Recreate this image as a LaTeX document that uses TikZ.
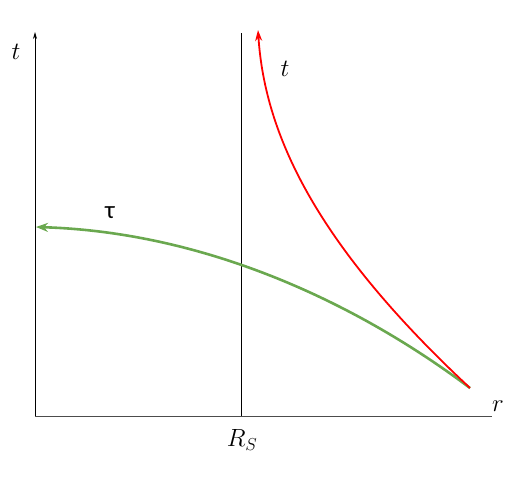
\documentclass[tikz,border=0pt]{standalone}
\usepackage{fontspec}
\newfontfamily\griega{Carlito}
\usetikzlibrary{arrows.meta}

\definecolor{verde}{RGB}{106,168,79}
\tikzset{
  eje/.style={line width=0.7pt},
  etiqueta/.style={font=\fontsize{27}{30}\selectfont, inner sep=0pt},
  curvaroja/.style={red, line width=1.8pt, -{Stealth[length=11pt,width=7pt]}},
  curvaverde/.style={verde, line width=2.6pt, -{Stealth[length=12pt,width=9pt]}}
}

\begin{document}
\begin{tikzpicture}[x=1pt,y=-1pt]
    % Marco del dibujo (520 x 480).
    \useasboundingbox (0,0) rectangle (520,480);

    % Define los puntos de los ejes y de la linea R_S.
    \coordinate (O) at (35,416);
    \coordinate (T) at (35,32);
    \coordinate (X) at (492,416);
    \coordinate (Rb) at (241,416);
    \coordinate (Ra) at (241,33);
    \coordinate (P) at (470,388);
    \coordinate (A) at (258,30);
    \coordinate (B) at (36,227);

    % Dibuja los ejes y la vertical en R_S.
    \draw[eje, -{Stealth[length=7pt,width=4pt]}] (O) -- (T);
    \draw[eje, black!70] (O) -- (X);
    \draw[eje] (Rb) -- (Ra);

    % Curva del tiempo t (roja) y del tiempo propio (verde).
    \draw[curvaverde] (P) .. controls (350,298) and (200,232) .. (B);
    \draw[curvaroja] (P) .. controls (322,250) and (265,140) .. (A);

    % Etiquetas.
    \node[etiqueta] (lt) at (16,52) {$t$};
    \node[etiqueta] (lt2) at (285,69) {$t$};
    \node[etiqueta, font=\griega\fontsize{25}{28}\selectfont] (ltau) at (110,213) {τ};
    \node[etiqueta] (lrs) at (242,440) {$R_S$};
    \node[etiqueta] (lr) at (498,406) {$r$};
\end{tikzpicture}
\end{document}
